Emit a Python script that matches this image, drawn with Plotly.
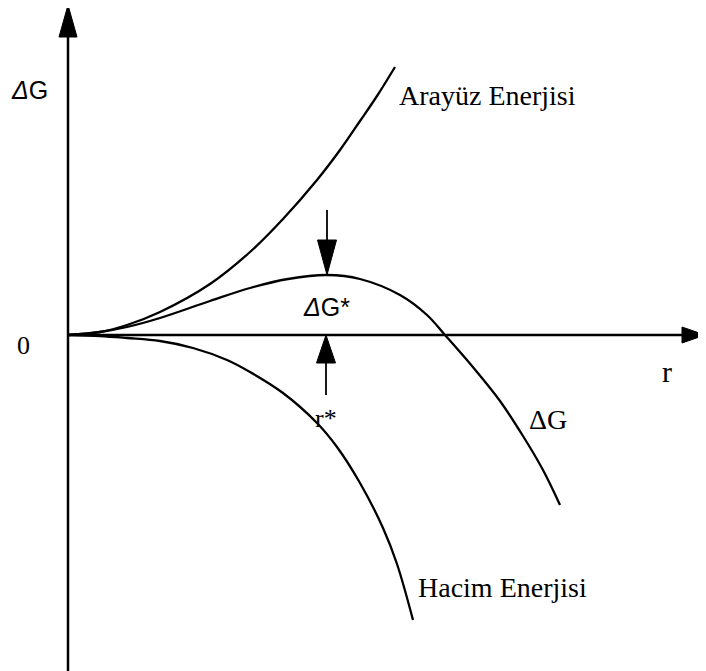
import plotly.graph_objects as go

# ---- data (arbitrary units: radius r, free energy G) ----
r_interface = [0, 32, 59, 92, 142, 182, 215, 249, 272, 292, 309, 327]
G_interface = [0, 3, 10, 23, 51, 83, 116, 155, 185, 214, 239, 268]

r_volume = [0, 32, 59, 92, 125, 159, 182, 215, 249, 269, 292, 315, 329, 345]
G_volume = [0, -1, -3, -6, -13, -25, -37, -58, -88, -112, -148, -193, -229, -285]

r_total = [0, 32, 59, 92, 142, 182, 220, 259, 292, 332, 359, 377, 404, 432, 455, 475, 492]
G_total = [0, 3, 8, 17, 34, 47, 56, 60, 56, 40, 20, 0, -31, -66, -101, -135, -170]

r_star = 259
G_star = 60

labels = {
    "interface": "Arayüz Enerjisi",
    "volume": "Hacim Enerjisi",
    "total": "ΔG",
    "yaxis": "<i>Δ</i>G",
    "barrier": "<i>Δ</i>G*",
    "xaxis": "r",
    "rstar": "r*",
    "zero": "0",
}

# ---- axis extents (data units; page has an 8px body margin) ----
FIG_W, FIG_H = 698, 663
X_MIN, X_MAX = -60, 638
Y_MIN, Y_MAX = -336, 327

SERIF = "Liberation Serif, Times New Roman, serif"
SANS = "Liberation Sans, Arial, sans-serif"
BLACK = "#000000"

fig = go.Figure()
for rr, gg in [(r_interface, G_interface), (r_total, G_total), (r_volume, G_volume)]:
    fig.add_trace(go.Scatter(x=rr, y=gg, mode="lines",
                             line=dict(color=BLACK, width=2.3, shape="spline", smoothing=1.0),
                             hoverinfo="skip", showlegend=False))

# ---- axes drawn as arrows ----
head_len, head_half = 32, 9
Y_TOP = 330
shapes = []
shapes.append(dict(type="line", xref="x", yref="y", x0=0, x1=0, y0=-336, y1=Y_TOP - head_len + 2,
                   line=dict(color=BLACK, width=2.5)))
shapes.append(dict(type="path", xref="x", yref="y",
                   path=f"M {-head_half},{Y_TOP - head_len} L {head_half},{Y_TOP - head_len} L 0,{Y_TOP} Z",
                   fillcolor=BLACK, line=dict(color=BLACK, width=1)))
xt = X_MAX - 1
shapes.append(dict(type="line", xref="x", yref="y", x0=0, x1=xt - 22, y0=0, y1=0,
                   line=dict(color=BLACK, width=2.5)))
shapes.append(dict(type="path", xref="x", yref="y",
                   path=f"M {xt - 23},{-8} L {xt - 23},{8} L {xt},0 Z",
                   fillcolor=BLACK, line=dict(color=BLACK, width=1)))

# ---- r* / dG* indicator arrows ----
a_len, a_half, a_shaft = 35, 9.5, 30
shapes.append(dict(type="line", xref="x", yref="y", x0=r_star, x1=r_star,
                   y0=G_star + a_len, y1=G_star + a_len + a_shaft, line=dict(color=BLACK, width=1.8)))
shapes.append(dict(type="path", xref="x", yref="y",
                   path=f"M {r_star - a_half},{G_star + a_len} L {r_star + a_half},{G_star + a_len} L {r_star},{G_star} Z",
                   fillcolor=BLACK, line=dict(color=BLACK, width=1)))
shapes.append(dict(type="line", xref="x", yref="y", x0=r_star - 1, x1=r_star - 1,
                   y0=-28, y1=-60, line=dict(color=BLACK, width=1.8)))
shapes.append(dict(type="path", xref="x", yref="y",
                   path=f"M {r_star - 1 - a_half},{-28} L {r_star - 1 + a_half},{-28} L {r_star - 1},0 Z",
                   fillcolor=BLACK, line=dict(color=BLACK, width=1)))

def ann(text, x, y, size, family, xanchor="center"):
    return dict(text=text, x=x, y=y, xref="x", yref="y", showarrow=False,
                xanchor=xanchor, yanchor="middle",
                font=dict(size=size, family=family, color=BLACK))

annotations = [
    ann(labels["yaxis"], -39, 245, 25, SANS),
    ann(labels["zero"], -45, -10, 26, SERIF),
    ann(labels["interface"], 329, 240, 28, SERIF, "left"),
    ann(labels["barrier"], 258, 28, 25, SANS),
    ann(labels["xaxis"], 599, -36, 30, SERIF),
    ann(labels["total"], 480, -84, 28, SERIF),
    ann(labels["rstar"], 258, -83, 26, SERIF),
    ann(labels["volume"], 348, -252, 28, SERIF, "left"),
]

fig.update_layout(
    width=FIG_W, height=FIG_H,
    margin=dict(l=0, r=0, t=0, b=0),
    paper_bgcolor="white", plot_bgcolor="white",
    xaxis=dict(range=[X_MIN, X_MAX], visible=False, fixedrange=True),
    yaxis=dict(range=[Y_MIN, Y_MAX], visible=False, fixedrange=True),
    shapes=shapes, annotations=annotations,
)

fig.write_html("out.html")
